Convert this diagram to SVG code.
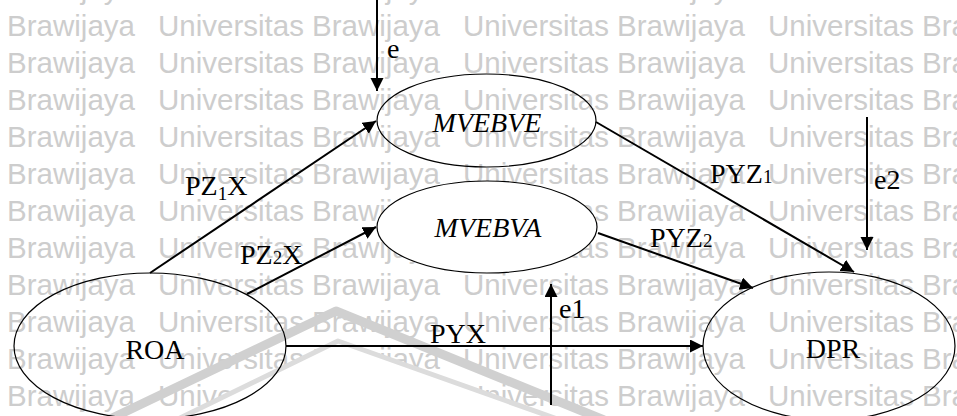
<svg xmlns="http://www.w3.org/2000/svg" xmlns:xlink="http://www.w3.org/1999/xlink" width="957" height="416" viewBox="0 0 957 416">
  <style>
    .wm { font-family: "Liberation Sans", Arial, sans-serif; font-size: 29.5px; fill: #cdcdcd; }
    .node { stroke: #000; stroke-width: 1.2; fill: none; }
    .node.filled { fill: #fff; }
    .lbl { font-family: "Liberation Serif", "Times New Roman", serif; font-size: 28px; fill: #000; }
    .it { font-style: italic; }
    .sm { font-size: 19px; }
    .edge { stroke: #000; stroke-width: 2; fill: none; marker-end: url(#ah); }
  </style>
  <defs>
    <marker id="ah" markerUnits="userSpaceOnUse" markerWidth="14" markerHeight="14" refX="13" refY="6.5" orient="auto">
      <path d="M0,0 L13,6.5 L0,13 z" fill="#000"/>
    </marker>
    <g id="wr" class="wm">
      <text x="-147">Universitas Brawijaya</text>
      <text x="158">Universitas Brawijaya</text>
      <text x="463">Universitas Brawijaya</text>
      <text x="768">Universitas Brawijaya</text>
    </g>
  </defs>
  <rect width="957" height="416" fill="#fff"/>

  <g id="watermark">
    <use href="#wr" xlink:href="#wr" y="-1"/>
    <use href="#wr" xlink:href="#wr" y="36"/>
    <use href="#wr" xlink:href="#wr" y="73"/>
    <use href="#wr" xlink:href="#wr" y="110"/>
    <use href="#wr" xlink:href="#wr" y="147"/>
    <use href="#wr" xlink:href="#wr" y="184"/>
    <use href="#wr" xlink:href="#wr" y="221"/>
    <use href="#wr" xlink:href="#wr" y="258"/>
    <use href="#wr" xlink:href="#wr" y="295"/>
    <use href="#wr" xlink:href="#wr" y="332"/>
    <use href="#wr" xlink:href="#wr" y="369"/>
    <use href="#wr" xlink:href="#wr" y="406"/>
    <polygon points="176,420 338,341 560,420" fill="#fff"/>
    <path d="M108,420 L336,311 L604,420" fill="none" stroke="#d0d0d0" stroke-width="9" stroke-linejoin="round"/>
    <path d="M176,420 L338,341 L560,420" fill="none" stroke="#dcdcdc" stroke-width="5" stroke-linejoin="round"/>
  </g>

  <g id="node-mvebve">
    <ellipse class="node" cx="486.5" cy="120.5" rx="109.5" ry="46.5"/>
    <text class="lbl it" x="487" y="132" text-anchor="middle">MVEBVE</text>
  </g>
  <g id="node-mvebva">
    <ellipse class="node filled" cx="487" cy="227" rx="110" ry="46"/>
    <text class="lbl it" x="488" y="237" text-anchor="middle">MVEBVA</text>
  </g>
  <g id="node-roa">
    <ellipse class="node" cx="150" cy="346" rx="136" ry="73"/>
    <text class="lbl" x="155" y="359" text-anchor="middle">ROA</text>
  </g>
  <g id="node-dpr">
    <ellipse class="node" cx="829" cy="346" rx="126" ry="74"/>
    <text class="lbl" x="833" y="358" text-anchor="middle">DPR</text>
  </g>

  <g id="connectors">
    <line class="edge" x1="377" y1="0" x2="377" y2="91"/>
    <line class="edge" x1="150" y1="273" x2="376" y2="121"/>
    <line class="edge" x1="247" y1="294" x2="376" y2="227"/>
    <line class="edge" x1="286" y1="346" x2="703" y2="346"/>
    <line class="edge" x1="551" y1="405" x2="551" y2="284"/>
    <line class="edge" x1="596" y1="122" x2="854" y2="272"/>
    <line class="edge" x1="598" y1="233" x2="753" y2="288"/>
    <line class="edge" x1="867" y1="117" x2="867" y2="250"/>
  </g>

  <g id="labels">
    <text class="lbl" x="387" y="58">e</text>
    <text class="lbl" x="185" y="195">PZ<tspan class="sm" dy="5">1</tspan><tspan dy="-5">X</tspan></text>
    <text class="lbl" x="240" y="264">PZ<tspan class="sm">2</tspan>X</text>
    <text class="lbl" x="430" y="343">PYX</text>
    <text class="lbl" x="559" y="318">e1</text>
    <text class="lbl" x="710" y="183">PYZ<tspan class="sm">1</tspan></text>
    <text class="lbl" x="650" y="247">PYZ<tspan class="sm">2</tspan></text>
    <text class="lbl" x="874" y="189">e2</text>
  </g>
</svg>
